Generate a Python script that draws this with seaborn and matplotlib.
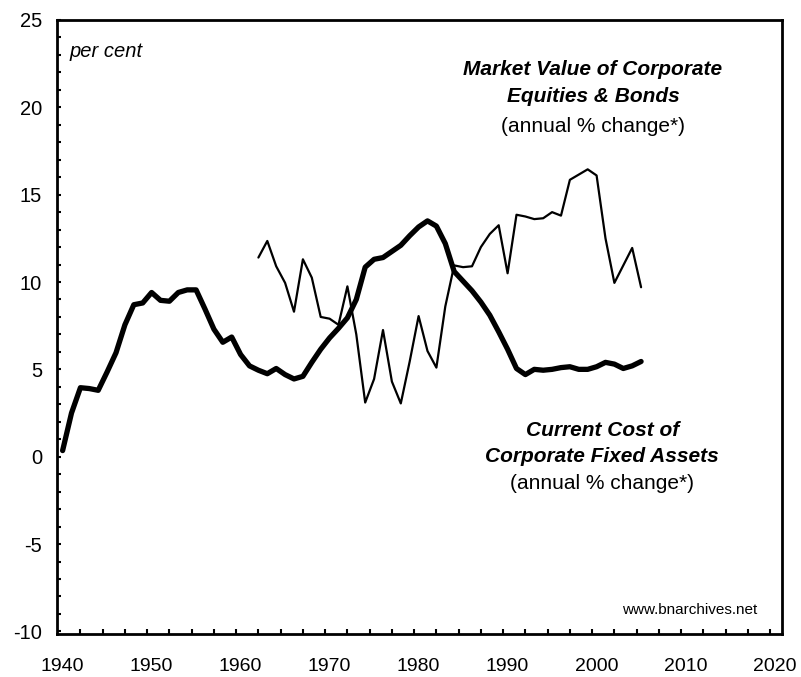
import numpy as np
import pandas as pd
import matplotlib
matplotlib.use("Agg")
import matplotlib.pyplot as plt
import seaborn as sns

# Current cost of corporate fixed assets (annual % change), 1940-2005
anios_activos = list(range(1940, 2006))
activos = [0.35, 2.5, 3.95, 3.9, 3.8, 4.85, 5.95, 7.55, 8.7, 8.8,
           9.4, 8.95, 8.9, 9.4, 9.55, 9.55, 8.45, 7.3, 6.55, 6.85,
           5.85, 5.2, 4.95, 4.75, 5.05, 4.7, 4.45, 4.6, 5.4, 6.15,
           6.8, 7.35, 7.95, 9.0, 10.85, 11.3, 11.4, 11.75, 12.1, 12.65,
           13.15, 13.5, 13.2, 12.2, 10.6, 10.05, 9.5, 8.85, 8.1, 7.15,
           6.15, 5.05, 4.7, 5.0, 4.95, 5.0, 5.1, 5.15, 5.0, 5.0,
           5.15, 5.4, 5.3, 5.05, 5.2, 5.45]

# Market value of corporate equities & bonds (annual % change), 1962-2005
anios_mercado = list(range(1962, 2006))
mercado = [11.4, 12.35, 10.9, 9.95, 8.3, 11.3, 10.25, 8.0,
           7.9, 7.55, 9.75, 7.0, 3.1, 4.45, 7.25, 4.3, 3.05, 5.45,
           8.05, 6.05, 5.1, 8.6, 10.95, 10.85, 10.9, 12.0, 12.75, 13.25,
           10.5, 13.85, 13.75, 13.6, 13.65, 14.0, 13.8, 15.85, 16.15, 16.45,
           16.1, 12.5, 9.95, 10.95, 11.95, 9.7]

etiquetas_x = list(range(1940, 2021, 10))
etiquetas_y = list(range(-10, 26, 5))

df_a = pd.DataFrame({"anio": anios_activos, "valor": activos})
df_m = pd.DataFrame({"anio": anios_mercado, "valor": mercado})

sns.set_style("ticks")
plt.rcParams["font.family"] = ["Liberation Sans", "DejaVu Sans"]
plt.rcParams["text.color"] = "black"
plt.rcParams["xtick.color"] = "black"
plt.rcParams["ytick.color"] = "black"

fig = plt.figure(figsize=(8.01, 6.77), dpi=100)
ax = fig.add_axes([0.0715, 0.0635, 0.9044, 0.907])

sns.lineplot(data=df_m, x="anio", y="valor", color="black", linewidth=1.6, ax=ax)
sns.lineplot(data=df_a, x="anio", y="valor", color="black", linewidth=3.8, ax=ax)

ax.set_xlim(1939.4, 2020.8)
ax.set_ylim(-10.15, 25)
ax.set_xlabel("")
ax.set_ylabel("")

# Ejes
ax.set_xticks(etiquetas_x)
ax.set_xticklabels([str(a) for a in etiquetas_x])
ax.set_xticks(np.arange(1942, 2020, 2.5), minor=True)
ax.tick_params(axis="x", which="major", bottom=True, length=0, pad=17, labelsize=14)
ax.tick_params(axis="x", which="minor", bottom=True, direction="in", length=3.5, width=1.5,
               color="black")

ax.set_yticks(etiquetas_y)
ax.set_yticklabels([str(v) for v in etiquetas_y])
ax.set_yticks(np.arange(-10, 26, 1), minor=True)
ax.tick_params(axis="y", which="both", left=True, direction="in", length=3, width=1.5,
               color="black")
ax.tick_params(axis="y", which="major", pad=11, labelsize=14.5)

for s in ax.spines.values():
    s.set_visible(True)
    s.set_color("black")
    s.set_linewidth(2)

# Textos
ax.text(1940.8, 23.17, "per cent", style="italic", fontsize=14.5, va="center", ha="left")

ax.text(1999.6, 22.18, "Market Value of Corporate", style="italic", weight="bold",
        fontsize=15, ha="center", va="center")
ax.text(1999.6, 20.61, "Equities & Bonds", style="italic", weight="bold",
        fontsize=15, ha="center", va="center")
ax.text(1999.6, 18.93, "(annual % change*)", fontsize=15, ha="center", va="center")

ax.text(2000.65, 1.49, "Current Cost of", style="italic", weight="bold",
        fontsize=15, ha="center", va="center")
ax.text(2000.65, 0.04, "Corporate Fixed Assets", style="italic", weight="bold",
        fontsize=15, ha="center", va="center")
ax.text(2000.65, -1.56, "(annual % change*)", fontsize=15, ha="center", va="center")

ax.text(2010.5, -8.77, "www.bnarchives.net", fontsize=11, ha="center", va="center")

plt.savefig("out.png", dpi=100)
